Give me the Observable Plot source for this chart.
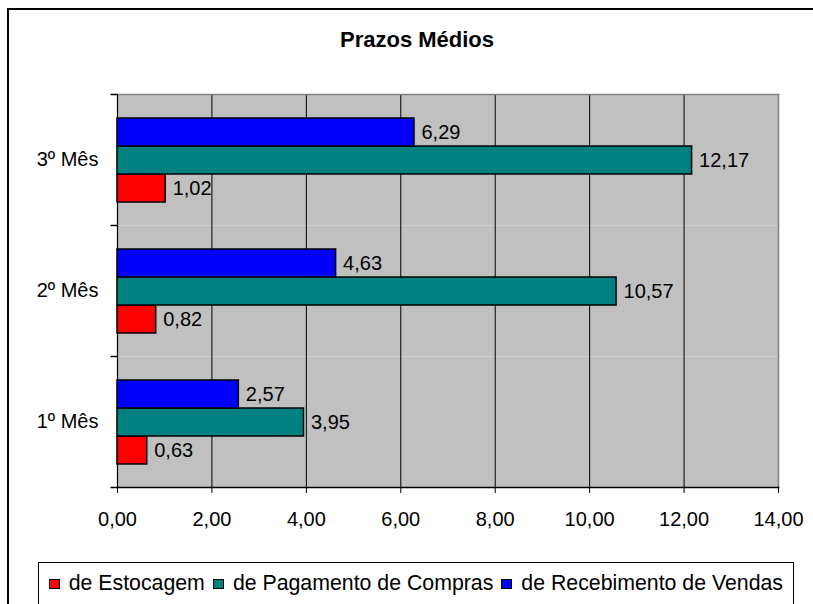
<!DOCTYPE html>
<html><head><meta charset="utf-8">
<script src="https://cdn.jsdelivr.net/npm/d3@7"></script>
<script src="https://cdn.jsdelivr.net/npm/@observablehq/plot@0.6"></script>
<style>
html,body{margin:0;padding:0;background:#fff;overflow:hidden;}
#wrap{position:relative;width:813px;height:604px;overflow:hidden;font-family:"Liberation Sans",Arial,sans-serif;color:#000;}
#wrap svg{position:absolute;left:0;top:0;}
#border{position:absolute;left:7px;top:8px;width:840px;height:660px;border-left:2px solid #000;border-top:2px solid #000;box-sizing:border-box;}
#title{position:absolute;left:0;width:834px;top:27px;text-align:center;font-weight:bold;font-size:22px;line-height:26px;}
#legend{position:absolute;right:19px;top:562px;height:80px;border:1px solid #000;background:#fff;padding:7px 10px 0 10px;display:block;font-size:21.3px;line-height:26px;box-sizing:border-box;}
#legend .row{display:flex;align-items:center;height:26px;white-space:nowrap;}
#legend .sw{display:inline-block;width:11px;height:10px;border:1px solid #000;box-sizing:border-box;margin-right:9px;position:relative;top:1px;}
#legend .it{margin-right:8px;}
#legend .it:last-child{margin-right:0;}
</style>
</head><body>
<div id="wrap"></div>
<script>
const months = ["1º Mês", "2º Mês", "3º Mês"];
const series = ["de Estocagem", "de Pagamento de Compras", "de Recebimento de Vendas"];
const estocagem = [0.63, 0.82, 1.02];
const pagamento = [3.95, 10.57, 12.17];
const recebimento = [2.57, 4.63, 6.29];
const colors = ["#ff0000", "#008080", "#0000ff"];
const xTicks = [0, 2, 4, 6, 8, 10, 12, 14];
const title = "Prazos Médios";

const values = [estocagem, pagamento, recebimento];
const data = months.flatMap((m, i) => series.map((s, j) => ({month: m, series: s, value: values[j][i]})));
const fmt = v => v.toFixed(2).replace(".", ",");
const tickSym = {draw(ctx) { ctx.moveTo(-7, 0); ctx.lineTo(0, 0); }};

const chart = Plot.plot({
  width: 813, height: 604,
  marginLeft: 117, marginRight: 35, marginTop: 94, marginBottom: 117,
  style: {fontFamily: "Liberation Sans, Arial, sans-serif", fontSize: "20px", background: "transparent", color: "#000"},
  x: {domain: [0, 14]},
  y: {domain: [series[2], series[1], series[0]], paddingInner: 0, paddingOuter: 0.78, axis: null},
  fy: {domain: [...months].reverse(), padding: 0},
  color: {domain: series, range: colors},
  marks: [
    Plot.frame({fill: "#c0c0c0", stroke: null}),
    Plot.gridX({ticks: xTicks.slice(1, -1), stroke: "#000", strokeOpacity: 1}),
    Plot.frame({anchor: "right", stroke: "#808080", strokeWidth: 1.5}),
    Plot.frame({anchor: "top", stroke: "#808080", strokeWidth: 1.5, facetAnchor: "top"}),
    Plot.frame({anchor: "left", stroke: "#000", strokeWidth: 1.2}),
    Plot.frame({anchor: "bottom", stroke: "#000", strokeWidth: 1.5, facetAnchor: "bottom"}),
    Plot.dot([0], {x: null, y: null, frameAnchor: "top-left", symbol: tickSym, stroke: "#000", fill: "none"}),
    Plot.dot([0], {x: null, y: null, frameAnchor: "bottom-left", symbol: tickSym, stroke: "#000", fill: "none", facetAnchor: "bottom"}),
    Plot.barX(data, {x: "value", y: "series", fy: "month", fill: "series", stroke: "#000", strokeWidth: 1.5}),
    Plot.text(data, {x: "value", y: "series", fy: "month", text: d => fmt(d.value), textAnchor: "start", dx: 7, fill: "#000"}),
    Plot.axisX({ticks: xTicks, tickFormat: fmt, tickSize: 6, tickPadding: 18, label: null, stroke: "#000"}),
    Plot.axisFy({anchor: "left", tickSize: 0, tickPadding: 19, label: null})
  ]
});

const wrap = document.getElementById("wrap");
wrap.appendChild(chart);
const border = document.createElement("div");
border.id = "border";
wrap.appendChild(border);
const t = document.createElement("div");
t.id = "title";
t.textContent = title;
wrap.appendChild(t);
const leg = document.createElement("div");
leg.id = "legend";
const row = document.createElement("div");
row.className = "row";
series.forEach((s, i) => {
  const sw = document.createElement("span");
  sw.className = "sw";
  sw.style.background = colors[i];
  const it = document.createElement("span");
  it.className = "it";
  it.textContent = s;
  row.appendChild(sw);
  row.appendChild(it);
});
leg.appendChild(row);
wrap.appendChild(leg);
</script>
</body></html>
